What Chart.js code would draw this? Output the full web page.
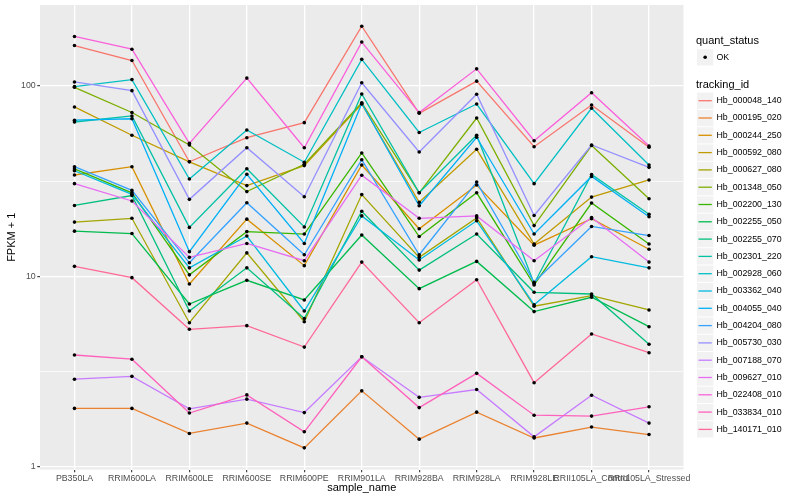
<!DOCTYPE html>
<html>
<head>
<meta charset="utf-8">
<script src="https://cdn.jsdelivr.net/npm/chart.js@4.4.1/dist/chart.umd.min.js"></script>
<style>
  html, body { margin: 0; padding: 0; background: #ffffff; }
  canvas { display: block; }
</style>
</head>
<body>
<canvas id="mycanvas" width="800" height="500"></canvas>
<script>
// x categories
var samples = ["PB350LA", "RRIM600LA", "RRIM600LE", "RRIM600SE", "RRIM600PE", "RRIM901LA",
               "RRIM928BA", "RRIM928LA", "RRIM928LE", "RRII105LA_Control", "RRII105LA_Stressed"];

// y ticks (log scale), minor gridlines at the log midpoints
var yMajor = [1, 10, 100];
var yMinor = [3.162, 31.62];

// FPKM + 1 per tracking id, one value per sample
var hb000048_140 = [163, 136, 40.0, 53.5, 64.2, 206, 71.9, 106, 48.0, 79.5, 47.7];
var hb000195_020 = [2.03, 2.03, 1.50, 1.70, 1.26, 2.51, 1.40, 1.94, 1.42, 1.62, 1.48];
var hb000244_250 = [34.1, 37.7, 9.13, 20.0, 11.4, 38.5, 17.8, 30.2, 14.6, 20.1, 13.9];
var hb000592_080 = [77.6, 55.1, 40.0, 30.0, 38.2, 80.4, 24.5, 46.5, 14.8, 26.1, 32.1];
var hb000627_080 = [19.3, 20.2, 5.72, 13.3, 5.79, 26.9, 12.6, 20.3, 6.98, 7.93, 6.67];
var hb001348_050 = [98.4, 72.6, 49.0, 27.9, 38.8, 81.7, 27.5, 67.9, 18.5, 48.7, 25.6];
var hb002200_130 = [36.7, 27.5, 10.2, 17.2, 16.7, 44.5, 16.2, 27.5, 9.03, 24.3, 14.8];
var hb002255_050 = [17.3, 16.8, 7.17, 9.55, 7.53, 16.5, 8.63, 12.0, 6.54, 7.78, 5.45];
var hb002255_070 = [23.6, 26.6, 6.59, 11.1, 6.02, 22.0, 10.8, 16.7, 8.26, 8.09, 4.41];
var hb002301_220 = [64.7, 69.6, 18.1, 36.8, 18.2, 90.8, 27.5, 55.1, 9.19, 34.3, 21.2];
var hb002928_060 = [99.2, 108, 32.5, 58.7, 39.8, 138, 57.0, 80.4, 30.7, 76.4, 38.5];
var hb003362_040 = [35.9, 27.0, 11.1, 16.3, 6.59, 20.8, 12.2, 19.6, 7.11, 12.7, 11.1];
var hb004055_040 = [66.1, 67.3, 13.5, 34.4, 14.9, 80.9, 23.5, 53.8, 16.7, 33.5, 20.6];
var hb004204_080 = [37.7, 28.3, 11.8, 24.4, 13.0, 41.0, 13.0, 31.3, 9.32, 18.3, 16.4];
var hb005730_030 = [105, 94.5, 25.4, 47.4, 26.2, 104, 45.0, 90.5, 20.9, 49.0, 37.4];
var hb007188_070 = [2.89, 2.99, 2.02, 2.27, 1.93, 3.79, 2.32, 2.55, 1.44, 2.38, 1.70];
var hb009627_010 = [30.7, 24.9, 12.6, 14.9, 12.1, 34.0, 20.2, 20.8, 12.1, 20.4, 11.9];
var hb022408_010 = [182, 156, 50.0, 110, 47.4, 170, 72.5, 123, 51.6, 92.2, 48.4];
var hb033834_010 = [3.87, 3.68, 1.92, 2.39, 1.53, 3.79, 2.05, 3.10, 1.87, 1.85, 2.07];
var hb140171_010 = [11.3, 9.86, 5.28, 5.52, 4.26, 11.9, 5.72, 9.62, 2.77, 4.99, 3.98];

var trackingIds = ["Hb_000048_140", "Hb_000195_020", "Hb_000244_250", "Hb_000592_080", "Hb_000627_080",
                   "Hb_001348_050", "Hb_002200_130", "Hb_002255_050", "Hb_002255_070", "Hb_002301_220",
                   "Hb_002928_060", "Hb_003362_040", "Hb_004055_040", "Hb_004204_080", "Hb_005730_030",
                   "Hb_007188_070", "Hb_009627_010", "Hb_022408_010", "Hb_033834_010", "Hb_140171_010"];
var seriesValues = [hb000048_140, hb000195_020, hb000244_250, hb000592_080, hb000627_080,
                    hb001348_050, hb002200_130, hb002255_050, hb002255_070, hb002301_220,
                    hb002928_060, hb003362_040, hb004055_040, hb004204_080, hb005730_030,
                    hb007188_070, hb009627_010, hb022408_010, hb033834_010, hb140171_010];

// ggplot default hue palette (hcl, c=100, l=65)
function hcl(h, c, l) {
	var hr = h * Math.PI / 180;
	var U = c * Math.cos(hr), V = c * Math.sin(hr);
	var Y = l > 8 ? Math.pow((l + 16) / 116, 3) : l / 903.3;
	var Xn = 0.95047, Yn = 1.0, Zn = 1.08883;
	var den = Xn + 15 * Yn + 3 * Zn;
	var u = U / (13 * l) + 4 * Xn / den;
	var v = V / (13 * l) + 9 * Yn / den;
	var X = Y * 9 * u / (4 * v);
	var Z = Y * (12 - 3 * u - 20 * v) / (4 * v);
	var rgb = [
		3.240479 * X - 1.537150 * Y - 0.498535 * Z,
		-0.969256 * X + 1.875992 * Y + 0.041556 * Z,
		0.055648 * X - 0.204043 * Y + 1.057311 * Z
	].map(function (t) {
		t = t <= 0.0031308 ? 12.92 * t : 1.055 * Math.pow(t, 1 / 2.4) - 0.055;
		t = Math.max(0, Math.min(1, t));
		var s = Math.round(t * 255).toString(16);
		return s.length < 2 ? "0" + s : s;
	});
	return "#" + rgb.join("");
}

var colors = [];
for (var i = 0; i < trackingIds.length; i++) {
	colors.push(hcl(15 + i * 360 / trackingIds.length, 100, 65));
}

var datasets = [];
var allPoints = [];
for (var i = 0; i < trackingIds.length; i++) {
	var pts = [];
	for (var j = 0; j < samples.length; j++) {
		pts.push({x: j, y: seriesValues[i][j]});
		allPoints.push({x: j, y: seriesValues[i][j]});
	}
	datasets.push({
		label: trackingIds[i],
		data: pts,
		borderColor: colors[i],
		backgroundColor: colors[i],
		borderWidth: 1.3,
		pointRadius: 0,
		fill: false,
		tension: 0,
		order: 100 - i
	});
}
datasets.push({
	label: "OK",
	data: allPoints,
	showLine: false,
	pointRadius: 1.8,
	pointBackgroundColor: "#000000",
	pointBorderWidth: 0,
	borderColor: "#000000",
	order: 0
});

var panelBg = {
	id: "panelBg",
	beforeDraw: function (chart) {
		var a = chart.chartArea, ctx = chart.ctx;
		ctx.save();
		ctx.fillStyle = "#EBEBEB";
		ctx.fillRect(a.left, a.top, a.right - a.left, a.bottom - a.top);
		ctx.restore();
	}
};

var ggLegend = {
	id: "ggLegend",
	afterDraw: function (chart) {
		var ctx = chart.ctx;
		var x0 = 696, kx = 697, ks = 17.3, tx = 716.5;
		ctx.save();
		ctx.textBaseline = "middle";
		ctx.textAlign = "left";
		ctx.fillStyle = "#000000";
		ctx.font = "11px 'Liberation Sans', Arial, sans-serif";
		ctx.fillText("quant_status", x0, 41);
		ctx.fillStyle = "#F2F2F2";
		ctx.fillRect(kx, 57.3 - ks / 2 + 0.5, ks - 1, ks - 1);
		ctx.fillStyle = "#000000";
		ctx.beginPath();
		ctx.arc(kx + ks / 2 - 0.5, 57.3, 1.8, 0, Math.PI * 2);
		ctx.fill();
		ctx.font = "8.8px 'Liberation Sans', Arial, sans-serif";
		ctx.fillText("OK", tx, 57.3);

		ctx.font = "11px 'Liberation Sans', Arial, sans-serif";
		ctx.fillText("tracking_id", x0, 84.5);
		ctx.font = "8.8px 'Liberation Sans', Arial, sans-serif";
		for (var i = 0; i < trackingIds.length; i++) {
			var cy = 100.7 + i * ks;
			ctx.fillStyle = "#F2F2F2";
			ctx.fillRect(kx, cy - ks / 2 + 0.5, ks - 1, ks - 1);
			ctx.strokeStyle = colors[i];
			ctx.lineWidth = 1.3;
			ctx.beginPath();
			ctx.moveTo(kx + 1.5, cy);
			ctx.lineTo(kx + ks - 2.5, cy);
			ctx.stroke();
			ctx.fillStyle = "#000000";
			ctx.fillText(trackingIds[i], tx, cy);
		}
		ctx.restore();
	}
};

var axisFont = {family: "'Liberation Sans', Arial, sans-serif", size: 8.8};
var titleFont = {family: "'Liberation Sans', Arial, sans-serif", size: 11};

var ctx = document.getElementById("mycanvas");
var LineGraph = new Chart(ctx, {
	type: "line",
	data: {datasets: datasets},
	plugins: [panelBg, ggLegend],
	options: {
		responsive: false,
		animation: false,
		devicePixelRatio: 1,
		layout: {padding: {left: 0, right: 116.5, top: 5, bottom: 0}},
		plugins: {legend: {display: false}, tooltip: {enabled: false}},
		scales: {
			x: {
				type: "linear",
				min: -0.6,
				max: 10.6,
				afterBuildTicks: function (scale) {
					scale.ticks = samples.map(function (s, i) { return {value: i}; });
				},
				afterFit: function (scale) {
					scale.height = 30.5;
					scale.paddingLeft = 0;
					scale.paddingRight = 0;
				},
				border: {display: false},
				grid: {color: "#FFFFFF", lineWidth: 1.3, tickLength: 2.75, tickColor: "#333333", tickWidth: 1.1},
				ticks: {
					autoSkip: false,
					maxRotation: 0,
					minRotation: 0,
					padding: 1.5,
					color: "#4D4D4D",
					font: axisFont,
					callback: function (v) { return samples[v]; }
				},
				title: {display: true, text: "sample_name", color: "#000000", font: titleFont, padding: {top: 0, bottom: 5}}
			},
			y: {
				type: "logarithmic",
				min: 0.97,
				max: 266.1,
				afterBuildTicks: function (scale) {
					scale.ticks = yMajor.concat(yMinor).sort(function (a, b) { return a - b; })
						.map(function (v) { return {value: v}; });
				},
				afterFit: function (scale) {
					scale.width = 40;
					scale.paddingTop = 0;
					scale.paddingBottom = 0;
				},
				border: {display: false},
				grid: {
					color: "#FFFFFF",
					lineWidth: function (c) { return c.tick && yMinor.indexOf(c.tick.value) >= 0 ? 0.7 : 1.3; },
					tickLength: 2.75,
					tickColor: function (c) { return c.tick && yMinor.indexOf(c.tick.value) >= 0 ? "rgba(0,0,0,0)" : "#333333"; },
					tickWidth: 1.1
				},
				ticks: {
					padding: 1.5,
					color: "#4D4D4D",
					font: axisFont,
					callback: function (v) { return yMajor.indexOf(v) >= 0 ? String(v) : ""; }
				},
				title: {display: true, text: "FPKM + 1", color: "#000000", font: titleFont, padding: {top: 5, bottom: 0}}
			}
		}
	}
});
</script>
</body>
</html>
